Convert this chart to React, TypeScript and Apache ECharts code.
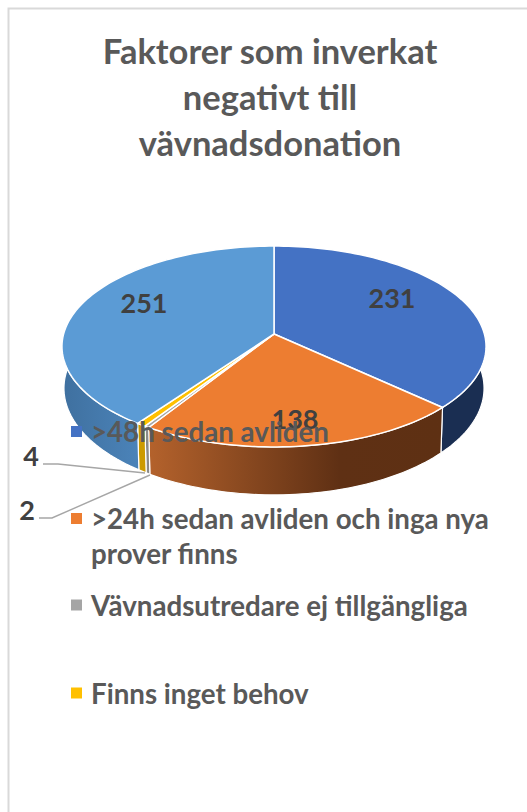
import React, { useEffect, useRef } from "react";
import * as echarts from "echarts";

const titleLines = ["Faktorer som inverkat", "negativt till", "vävnadsdonation"];
const names = [
  ">48h sedan avliden",
  ">24h sedan avliden och inga nya prover finns",
  "Vävnadsutredare ej tillgängliga",
  "Finns inget behov",
  "Övrigt",
];
const values = [231, 138, 2, 4, 251];
const topColors = ["#4472C4", "#ED7D31", "#A5A5A5", "#FFC000", "#5B9BD5"];

// drawing settings (projected disc)
const CX = 274;
const K = 0.1243;
const TOP = { y0: 334, a: 210.4, b: 98.9 };
const BOTTOM = { y0: 375, a: 208.4, b: 105 };
const sideFills: any[] = [
  "#1A2E52",
  new echarts.graphic.LinearGradient(0, 0, 1, 0, [
    { offset: 0, color: "#B4622C" },
    { offset: 0.65, color: "#5F3014" },
    { offset: 1, color: "#5E3013" },
  ]),
  "#8A8A8A",
  "#CC9A00",
  new echarts.graphic.LinearGradient(0, 0, 1, 0, [
    { offset: 0, color: "#3F709F" },
    { offset: 1, color: "#4B83B9" },
  ]),
];
const labelLayout: any[] = [
  { x: 392, y: 297 },
  { x: 295, y: 418 },
  { x: 27, y: 509, line: [[39, 518], [52, 518], [150, 475]] },
  { x: 31, y: 455, line: [[43, 464], [58, 464], [145, 473]] },
  { x: 144, y: 302 },
];
const legendTops = [414, 466, 587.5, 675.5];

const FONT = "Lato";
const total = values.reduce((s, v) => s + v, 0);

function project(deg: number, p: { y0: number; a: number; b: number }) {
  const t = (deg * Math.PI) / 180;
  const u = Math.sin(t);
  const v = -Math.cos(t);
  const d = 1 - K * v;
  return [CX + (p.a * u) / d, p.y0 + (p.b * v) / d];
}
function arc(a0: number, a1: number, p: any) {
  const n = Math.max(2, Math.ceil(Math.abs(a1 - a0) / 1.5));
  const pts: number[][] = [];
  for (let i = 0; i <= n; i++) pts.push(project(a0 + ((a1 - a0) * i) / n, p));
  return pts;
}

function makeRender(index: number) {
  const before = values.slice(0, index).reduce((s, v) => s + v, 0);
  const a0 = (before / total) * 360;
  const a1 = ((before + values[index]) / total) * 360;
  return () => {
    const children: any[] = [];
    const s0 = Math.max(a0, 70);
    const s1 = Math.min(a1, 290);
    if (s1 > s0) {
      children.push({
        type: "polygon",
        shape: { points: [...arc(s0, s1, TOP), ...arc(s1, s0, BOTTOM)] },
        style: { fill: sideFills[index], stroke: "#FFFFFF", lineWidth: 1.2 },
      });
    }
    children.push({
      type: "polygon",
      shape: { points: [[CX, TOP.y0], ...arc(a0, a1, TOP)] },
      style: { fill: topColors[index], stroke: "#FFFFFF", lineWidth: 1.5 },
    });
    const l = labelLayout[index];
    if (l.line) {
      children.push({
        type: "polyline",
        shape: { points: l.line },
        style: { fill: "none", stroke: "#A6A6A6", lineWidth: 1.4 },
        z2: 5,
      });
    }
    children.push({
      type: "text",
      z2: 6,
      style: {
        x: l.x,
        y: l.y,
        text: String(values[index]),
        fill: "#404040",
        font: `bold 27px ${FONT}`,
        align: "center",
        verticalAlign: "middle",
      },
    });
    return { type: "group", children };
  };
}

export default function App() {
  const ref = useRef<HTMLDivElement>(null);
  useEffect(() => {
    const chart = echarts.init(ref.current!, undefined, { renderer: "svg" });
    chart.setOption({
      animation: false,
      backgroundColor: "#FFFFFF",
      title: {
        text: titleLines.join("\n"),
        left: 265,
        top: 22,
        textAlign: "center",
        textStyle: {
          fontFamily: FONT,
          fontWeight: "bold",
          fontSize: 34.5,
          lineHeight: 46,
          color: "#595959",
        },
      },
      legend: [0, 1, 2, 3].map((i) => ({
        data: [names[i]],
        left: 71,
        top: legendTops[i],
        orient: "vertical",
        padding: 0,
        itemWidth: 11,
        itemHeight: 11,
        itemGap: 0,
        icon: "rect",
        selectedMode: false,
        itemStyle: { color: topColors[i], borderWidth: 0 },
        formatter: (n: string) => (i === 1 ? "\n" + n.replace(" nya ", " nya\n") : n),
        textStyle: {
          fontFamily: FONT,
          fontWeight: "bold",
          fontSize: 27.7,
          lineHeight: 35,
          color: "#595959",
          padding: [0, 0, 0, 4],
        },
      })),
      graphic: [
        {
          type: "polyline",
          shape: { points: [[8.5, 812], [8.5, 8.5], [527, 8.5]] },
          style: { fill: "none", stroke: "#D9D9D9", lineWidth: 2 },
        },
      ],
      series: values.map((v, i) => ({
        type: "custom",
        name: names[i],
        coordinateSystem: "none",
        itemStyle: { color: topColors[i] },
        data: [[v]],
        renderItem: makeRender(i),
      })),
    });
    return () => chart.dispose();
  }, []);
  return (
    <div
      ref={ref}
      style={{ position: "fixed", left: 0, top: 0, width: 527, height: 812 }}
    />
  );
}
